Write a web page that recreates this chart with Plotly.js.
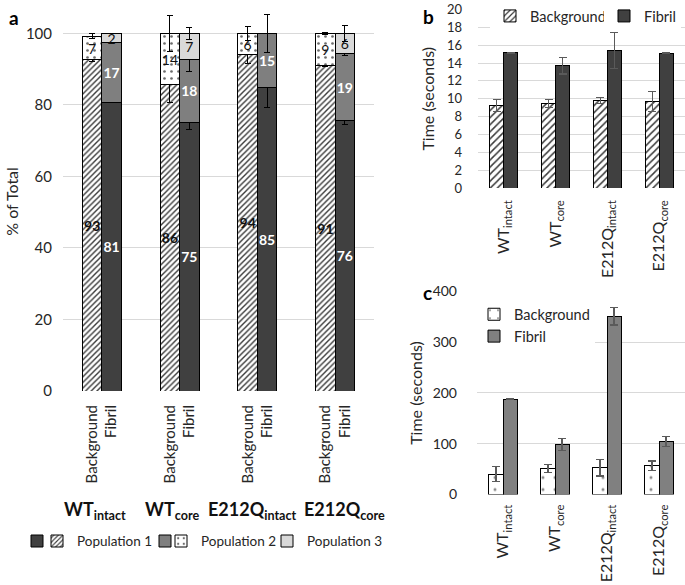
<!DOCTYPE html>
<html><head><meta charset="utf-8">
<script src="https://cdn.plot.ly/plotly-3.0.1.min.js"></script>
<style>html,body{margin:0;padding:0;background:#fff}#chart{width:685px;height:585px}</style>
</head><body><div id="chart"></div>
<script>
// ---------- data ----------
const groups = ['WT<sub>intact</sub>', 'WT<sub>core</sub>', 'E212Q<sub>intact</sub>', 'E212Q<sub>core</sub>'];
const sampleTypes = ['Background', 'Fibril'];
const populations = ['Population 1', 'Population 2', 'Population 3'];

// panel a: % of total
const bgPop1 = [92.6, 85.6, 94.0, 91.0];
const bgPop1Err = [0.5, 5.0, 2.3, 0.3];
const bgPop2 = [6.6, 14.4, 6.0, 9.0];
const bgPop2Err = [0.7, 5.0, 2.0, 0.2];
const fibPop1 = [80.6, 75.2, 85.0, 75.6];
const fibPop1Err = [0, 2.0, 5.6, 1.2];
const fibPop2 = [16.9, 17.6, 15.0, 18.7];
const fibPop2Err = [0, 3.4, 5.3, 0.5];
const fibPop3 = [2.4, 7.2, null, 5.7];
const fibPop3Err = [0, 1.7, 0, 2.3];

// panel b: time (seconds)
const bBg = [9.25, 9.45, 9.8, 9.7];
const bBgErr = [0.7, 0.45, 0.35, 1.1];
const bFib = [15.15, 13.7, 15.4, 15.1];
const bFibErr = [0.05, 0.93, 2.0, 0.05];

// panel c: time (seconds)
const cBg = [40, 51, 53, 57];
const cBgErr = [15, 7.5, 16.5, 9];
const cFib = [188, 99, 351, 104];
const cFibErr = [0.5, 12, 17, 10];

// ---------- styling helpers ----------
const W = 685, H = 585;
const px = v => v / W;
const py = v => 1 - v / H;
const FONT = 'Lato, "Open Sans", sans-serif';
const TXT = '#262626';
const idx = groups.map((g, i) => i);
const bgX = idx.map(i => i - 0.125);
const fibX = idx.map(i => i + 0.125);
const bX = idx.map(i => i - 0.135);
const fX = idx.map(i => i + 0.135);

const hatchA = {shape: '/', fgcolor: '#3a3a3a', bgcolor: '#ffffff', size: 4, solidity: 0.35};
const dotsA = {shape: '.', fgcolor: '#6a6a6a', bgcolor: '#ffffff', size: 7, solidity: 0.12};
const hatchB = {shape: '/', fgcolor: '#3a3a3a', bgcolor: '#ffffff', size: 5, solidity: 0.3};
const dotsC = {shape: '.', fgcolor: '#8a8a8a', bgcolor: '#ffffff', size: 12, solidity: 0.05};

function errA(arr) { return {type: 'data', array: arr, visible: true, color: '#000', thickness: 1, width: 3}; }
function errBC(arr) { return {type: 'data', array: arr, visible: true, color: '#5a5a5a', thickness: 1.2, width: 4}; }

function stackBar(name, x, y, err, marker, txtColor, bold, legend) {
  return {
    type: 'bar', name: name, x: x, y: y, width: 0.25,
    xaxis: 'x', yaxis: 'y', legend: legend,
    marker: Object.assign({line: {color: '#000', width: 1}}, marker),
    error_y: errA(err),
    texttemplate: '%{y:.0f}', textposition: 'inside', insidetextanchor: 'middle',
    textangle: 0, constraintext: 'none', cliponaxis: false,
    insidetextfont: {family: FONT, size: 14, color: txtColor, weight: bold ? 700 : 400},
    hoverinfo: 'skip'
  };
}

const data = [
  stackBar(populations[0], bgX, bgPop1, bgPop1Err, {color: '#ffffff', pattern: hatchA}, '#111', true, 'legend2'),
  stackBar(populations[1], bgX, bgPop2, bgPop2Err, {color: '#ffffff', pattern: dotsA}, '#111', false, 'legend4'),
  stackBar(' ', fibX, fibPop1, fibPop1Err, {color: '#404040'}, '#ffffff', true, 'legend'),
  stackBar(' ', fibX, fibPop2, fibPop2Err, {color: '#7f7f7f'}, '#ffffff', true, 'legend3'),
  stackBar(populations[2], fibX, fibPop3, fibPop3Err, {color: '#d9d9d9'}, '#111', false, 'legend5'),
  {type: 'bar', name: sampleTypes[0], x: bX, y: bBg, width: 0.27, xaxis: 'x2', yaxis: 'y2', legend: 'legend6',
   marker: {color: '#fff', pattern: hatchB, line: {color: '#000', width: 1}}, error_y: errBC(bBgErr), hoverinfo: 'skip'},
  {type: 'bar', name: sampleTypes[1], x: fX, y: bFib, width: 0.27, xaxis: 'x2', yaxis: 'y2', legend: 'legend7',
   marker: {color: '#404040', line: {color: '#000', width: 1}}, error_y: errBC(bFibErr), hoverinfo: 'skip'},
  {type: 'bar', name: sampleTypes[0], x: bX, y: cBg, width: 0.27, xaxis: 'x3', yaxis: 'y3', legend: 'legend8',
   marker: {color: '#fff', pattern: dotsC, line: {color: '#000', width: 1}}, error_y: errBC(cBgErr), hoverinfo: 'skip'},
  {type: 'bar', name: sampleTypes[1], x: fX, y: cFib, width: 0.27, xaxis: 'x3', yaxis: 'y3', legend: 'legend8',
   marker: {color: '#808080', line: {color: '#000', width: 1}}, error_y: errBC(cFibErr), hoverinfo: 'skip'}
];

const aTickVals = [], aTickText = [];
idx.forEach(i => { aTickVals.push(bgX[i], fibX[i]); aTickText.push(sampleTypes[0], sampleTypes[1]); });

const gridC = '#d9d9d9';
function yAx(anchor, domain, range, dtick, title, tsize, standoff, lblStand) {
  return {anchor: anchor, domain: domain, range: range, tickmode: 'linear', tick0: 0, dtick: dtick,
    showgrid: true, gridcolor: gridC, gridwidth: 1, zeroline: false, showline: false, ticks: '',
    tickfont: {family: FONT, size: tsize, color: TXT}, ticklabelstandoff: lblStand, fixedrange: true,
    title: {text: title, font: {family: FONT, size: 16, color: TXT}, standoff: standoff}, automargin: false};
}
function xAx(domain, anchor, vals, text, tsize, lblStand) {
  return {domain: domain, anchor: anchor, range: [-0.5, 3.5], tickmode: 'array', tickvals: vals, ticktext: text,
    tickangle: -90, showgrid: false, zeroline: false, showline: false, ticks: '',
    tickfont: {family: FONT, size: tsize, color: TXT}, ticklabelstandoff: lblStand, fixedrange: true, automargin: false};
}

function leg(xLeft, yMid, bg, size, orient) {
  return {x: px(xLeft), y: py(yMid), xanchor: 'left', yanchor: 'middle', orientation: orient || 'h',
    bgcolor: bg || 'rgba(0,0,0,0)', borderwidth: 0, traceorder: 'normal',
    font: {family: FONT, size: size || 13.5, color: TXT}};
}

const annotations = [
  {text: '<b>a</b>', x: px(14), y: py(15), xref: 'paper', yref: 'paper', xanchor: 'center', yanchor: 'middle', showarrow: false, font: {family: FONT, size: 19, color: '#000'}},
  {text: '<b>b</b>', x: px(428), y: py(14), xref: 'paper', yref: 'paper', xanchor: 'center', yanchor: 'middle', showarrow: false, font: {family: FONT, size: 19, color: '#000'}},
  {text: '<b>c</b>', x: px(427), y: py(291), xref: 'paper', yref: 'paper', xanchor: 'center', yanchor: 'middle', showarrow: false, font: {family: FONT, size: 19, color: '#000'}}
];
const gShift = [-7, -8, -5, 9];
groups.forEach((g, i) => annotations.push({
  text: '<b>' + g + '</b>', x: i, xref: 'x', y: py(510), yref: 'paper', yanchor: 'middle', xshift: gShift[i],
  showarrow: false, font: {family: FONT, size: 18, color: '#111'}
}));

const layout = {
  width: W, height: H, margin: {l: 0, r: 0, t: 0, b: 0},
  paper_bgcolor: '#fff', plot_bgcolor: '#fff',
  barmode: 'stack', showlegend: true,
  uniformtext: {mode: 'show', minsize: 14},
  font: {family: FONT, color: TXT},
  xaxis: xAx([px(63), px(374)], 'y', aTickVals, aTickText, 15, 10),
  yaxis: yAx('x', [py(390), py(9)], [0, 106], 20, '% of Total', 15, 3, 10),
  xaxis2: xAx([px(478), 1], 'y2', idx, groups, 16, 8),
  yaxis2: yAx('x2', [py(186), py(6.5)], [0, 20], 2, 'Time (seconds)', 13, 8, 15),
  xaxis3: xAx([px(477), 1], 'y3', idx, groups, 16, 6),
  yaxis3: yAx('x3', [py(494), py(290)], [0, 400], 100, 'Time (seconds)', 14, 6, 19),
  legend: leg(17, 541),
  legend2: leg(37, 541),
  legend3: leg(145, 541),
  legend4: leg(161, 541),
  legend5: leg(267, 541),
  legend6: leg(490, 13, '#fff', 14.5),
  legend7: leg(604, 13, '#fff', 14.5),
  legend8: leg(474, 324, '#fff', 14.5, 'v'),
  annotations: annotations
};
layout.yaxis.tickmode = 'array';
layout.yaxis.tickvals = [0, 20, 40, 60, 80, 100];

Plotly.newPlot('chart', data, layout, {displayModeBar: false, staticPlot: true});
</script></body></html>
